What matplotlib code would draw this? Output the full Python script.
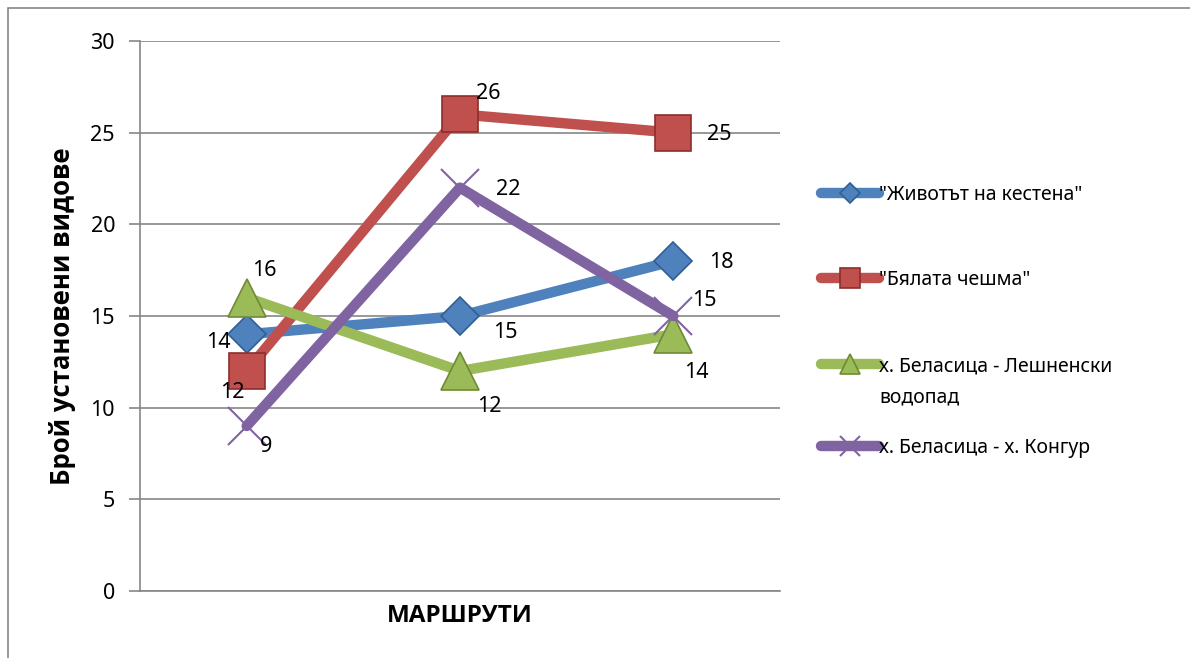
import matplotlib
matplotlib.use("Agg")
import matplotlib.pyplot as plt
from matplotlib.patches import Rectangle

plt.rcParams['font.family'] = ['Noto Sans', 'DejaVu Sans']

categories = ["", "", ""]
series_names = ['"Животът на кестена"', '"Бялата чешма"',
                'х. Беласица - Лешненски\nводопад', 'х. Беласица - х. Конгур']
zhivotat = [14, 15, 18]
byalata = [12, 26, 25]
leshnenski = [16, 12, 14]
kongur = [9, 22, 15]
y_ticks = [0, 5, 10, 15, 20, 25, 30]
x_label = "МАРШРУТИ"
y_label = "Брой установени видове"

colors = ["#4F81BD", "#C0504D", "#9BBB59", "#8064A2"]
edges = ["#2F5F95", "#8E2E2B", "#6F8A35", "#5E4780"]
markers = ["D", "s", "^", "x"]
msizes = [19, 26, 27, 27]
# label offsets (pixels)
offsets = [
    [(-28, -8), (45, -16), (48, -2)],
    [(-14, -21), (28, 21), (46, -2)],
    [(18, 27), (29, -36), (23, -38)],
    [(19, -20), (48, -2), (31, 16)],
]
legend_y = [195, 280, 366, 448]

fig = plt.figure(figsize=(11.9, 6.58), dpi=100)
ax = fig.add_axes([140/1190, 1-591/658, 640/1190, 550/658])

x = list(range(len(categories)))
all_series = [zhivotat, byalata, leshnenski, kongur]
handles = []
for i, vals in enumerate(all_series):
    if markers[i] == "x":
        h, = ax.plot(x, vals, color=colors[i], lw=7.5, solid_capstyle='round',
                     marker='x', ms=msizes[i], mew=1.5, mec=colors[i], zorder=3+i)
    else:
        h, = ax.plot(x, vals, color=colors[i], lw=7.5, solid_capstyle='round',
                     marker=markers[i], ms=msizes[i], mfc=colors[i], mec=edges[i],
                     mew=1.2, zorder=3+i)
    handles.append(h)
    for j, v in enumerate(vals):
        ax.annotate(str(v), (x[j], v), xytext=offsets[i][j], textcoords='offset pixels',
                    ha='center', va='center', fontsize=15.5, color='black', zorder=10)

ax.set_xlim(-0.5, 2.5)
ax.set_ylim(0, 30)
ax.set_yticks(y_ticks)
ax.set_xticks(x)
ax.set_xticklabels(categories)
ax.tick_params(axis='x', length=0)
ax.tick_params(axis='y', length=8, color='#868686', labelsize=15.5, pad=10, width=1.2)
ax.grid(axis='y', color='#868686', lw=1.2)
ax.set_axisbelow(True)
for s in ['top', 'right']:
    ax.spines[s].set_visible(False)
for s in ['left', 'bottom']:
    ax.spines[s].set_color('#868686')
    ax.spines[s].set_linewidth(1.2)

bold_family = ['Open Sans', 'Liberation Sans', 'DejaVu Sans']
ax.set_xlabel(x_label, fontsize=17.5, fontweight='bold', family=bold_family, labelpad=6)
ax.set_ylabel(y_label, fontsize=18.5, fontweight='bold', family=bold_family, labelpad=10)

for i, h in enumerate(handles):
    lab = series_names[i].split("\n")
    fig.legend([h], [lab[0]], loc='center left',
               bbox_to_anchor=(821/1190, 1-legend_y[i]/658), frameon=False,
               fontsize=14, handlelength=3.0, handletextpad=0.0,
               markerscale=0.55, borderpad=0, borderaxespad=0)
    if len(lab) > 1:
        fig.text(879/1190, 1-(legend_y[i]+31)/658, lab[1], fontsize=14,
                 ha='left', va='center')

fig.patches.append(Rectangle((8/1190, -0.1), 1.2, 1-8/658+0.1, transform=fig.transFigure,
                             fill=False, edgecolor='#868686', lw=1.2))

fig.savefig("out.png", dpi=100)
